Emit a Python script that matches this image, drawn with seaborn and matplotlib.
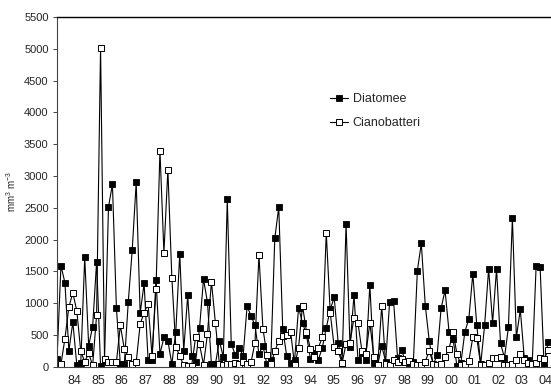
import numpy as np
import pandas as pd
import matplotlib
matplotlib.use('Agg')
import matplotlib.pyplot as plt
import seaborn as sns

# campioni (circa 6 per anno)
diatomee = [120, 1590, 1320, 250, 700, 30, 60, 1720, 330, 630,
            1650, 10, 100, 2510, 2870, 920, 40, 40, 1020, 1840,
            2900, 840, 1310, 110, 100, 1370, 200, 460, 410, 40,
            550, 1780, 250, 1120, 170, 80, 610, 1380, 1010, 40,
            40, 410, 150, 2630, 360, 190, 300, 170, 950, 800,
            650, 200, 330, 40, 110, 2020, 2510, 600, 170, 60,
            100, 930, 690, 500, 120, 210, 110, 300, 610, 900,
            1090, 380, 60, 2250, 310, 1130, 110, 220, 110, 1290,
            60, 30, 330, 80, 1020, 1030, 140, 270, 70, 60,
            80, 1510, 1940, 960, 410, 30, 190, 920, 1200, 550,
            440, 10, 60, 550, 750, 1460, 660, 40, 660, 1540,
            690, 1540, 370, 140, 620, 2340, 460, 900, 140, 100,
            40, 1590, 1570, 30, 390]
cianobatteri = [30, 40, 440, 940, 1160, 880, 240, 80, 210, 20,
                810, 5020, 120, 80, 80, 70, 650, 280, 160, 40,
                70, 670, 850, 990, 170, 1220, 3400, 1790, 3100, 1400,
                310, 170, 20, 10, 10, 460, 350, 30, 520, 1340,
                690, 50, 30, 40, 50, 60, 40, 80, 40, 70,
                380, 1760, 600, 190, 40, 240, 410, 490, 500, 550,
                20, 300, 960, 550, 280, 160, 300, 460, 2110, 850,
                310, 240, 60, 360, 380, 770, 690, 250, 200, 690,
                160, 30, 960, 40, 30, 100, 70, 120, 70, 90,
                40, 20, 20, 80, 250, 50, 20, 40, 160, 280,
                550, 200, 30, 50, 90, 460, 450, 30, 30, 60,
                140, 140, 150, 20, 20, 40, 100, 200, 100, 60,
                40, 60, 130, 120, 270]
anni = ['84', '85', '86', '87', '88', '89', '90', '91', '92', '93', '94',
        '95', '96', '97', '98', '99', '00', '01', '02', '03', '04']

df = pd.DataFrame({'campione': np.arange(len(diatomee)),
                   'Diatomee': diatomee,
                   'Cianobatteri': cianobatteri})

sns.set_style('white')
plt.rcParams['font.family'] = ['Liberation Sans', 'DejaVu Sans']
plt.rcParams['mathtext.fontset'] = 'custom'
plt.rcParams['mathtext.rm'] = 'Liberation Sans'
plt.rcParams['mathtext.it'] = 'Liberation Sans'

fig = plt.figure(figsize=(5.51, 3.9), dpi=100)
ax = fig.add_axes([57/551, 1 - 366.7/390, 1 - 57/551, (366.7 - 17)/390])

sns.lineplot(data=df, x='campione', y='Diatomee', ax=ax, color='black',
             lw=0.8, marker='s', markersize=3.8, markerfacecolor='black',
             markeredgecolor='black', markeredgewidth=0.6, label='Diatomee')
sns.lineplot(data=df, x='campione', y='Cianobatteri', ax=ax, color='black',
             lw=0.8, marker='s', markersize=3.8, markerfacecolor='white',
             markeredgecolor='black', markeredgewidth=0.7, label='Cianobatteri')

ax.set_xlim(0, 124.75)
ax.set_ylim(0, 5500)
ax.set_yticks(np.arange(0, 5501, 500))
ax.set_yticklabels([str(v) for v in range(0, 5501, 500)], fontsize=8)
ax.set_xticks(4.5 + 5.94 * np.arange(len(anni)))
ax.set_xticklabels(anni, fontsize=9)
ax.tick_params(axis='x', length=0, pad=6)
ax.tick_params(axis='y', length=3, width=0.6, direction='out', left=True, pad=3)
ax.set_xlabel('')
ax.set_ylabel(r'mm$^{3}$ m$^{-3}$', fontsize=7, labelpad=4)

for s in ['left', 'bottom']:
    ax.spines[s].set_color('#444444')
    ax.spines[s].set_linewidth(0.8)
ax.spines['top'].set_color('black')
ax.spines['top'].set_linewidth(1.0)
ax.spines['right'].set_visible(False)

ax.legend(loc='upper left', bbox_to_anchor=(0.53, 0.815), frameon=False,
          fontsize=9, handlelength=1.4, handletextpad=0.4, labelspacing=1.0)

fig.savefig('out.png', dpi=100)
